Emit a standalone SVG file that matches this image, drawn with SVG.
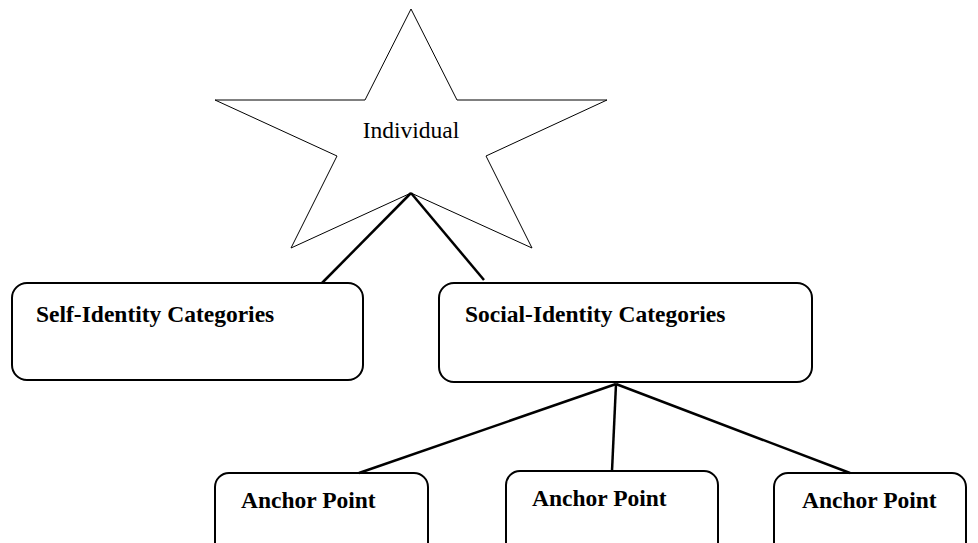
<svg xmlns="http://www.w3.org/2000/svg" width="978" height="543" viewBox="0 0 978 543">
<style>
.box{fill:#fff;stroke:#000;stroke-width:2}
.lbl{font-family:"Liberation Serif","Times New Roman",serif;font-weight:bold;font-size:23.5px;fill:#000}
.con{stroke:#000;stroke-width:2.5;fill:none}
</style>
<rect width="978" height="543" fill="#fff"/>
<g id="individual">
<polygon points="411,9 457,100 607,100 486,156 532,248 411,193 291,248 337,156 215,100 365,100" fill="#fff" stroke="#000" stroke-width="1"/>
<text x="411" y="138" text-anchor="middle" font-family="'Liberation Serif','Times New Roman',serif" font-size="23.5" fill="#000">Individual</text>
</g>
<g id="self-identity">
<rect class="box" x="12" y="283" width="351" height="97" rx="15"/>
<text class="lbl" x="36" y="322">Self-Identity Categories</text>
</g>
<g id="social-identity">
<rect class="box" x="439" y="283" width="373" height="99" rx="15"/>
<text class="lbl" x="465" y="322">Social-Identity Categories</text>
</g>
<g id="anchor1">
<rect class="box" x="215" y="473" width="213" height="90" rx="14"/>
<text class="lbl" x="241" y="508">Anchor Point</text>
</g>
<g id="anchor2">
<rect class="box" x="506" y="471" width="212" height="90" rx="14"/>
<text class="lbl" x="532" y="506">Anchor Point</text>
</g>
<g id="anchor3">
<rect class="box" x="774" y="473" width="192" height="90" rx="14"/>
<text class="lbl" x="802" y="508">Anchor Point</text>
</g>
<g id="connectors">
<line class="con" x1="411" y1="193" x2="322" y2="283"/>
<line class="con" x1="411" y1="193" x2="484" y2="280"/>
<line class="con" x1="616" y1="384" x2="359" y2="473"/>
<line class="con" x1="616" y1="384" x2="612" y2="471"/>
<line class="con" x1="616" y1="384" x2="850" y2="473"/>
</g>
</svg>
